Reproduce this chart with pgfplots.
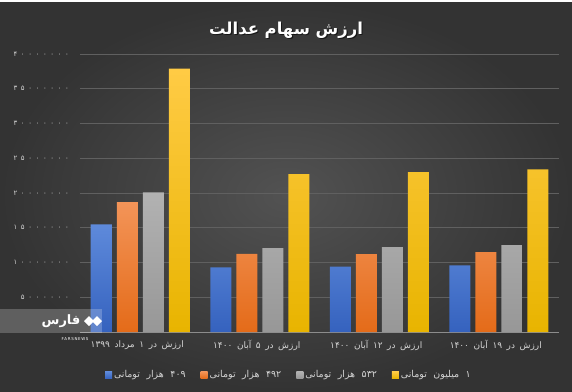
\documentclass[border=0pt]{standalone}
\usepackage{pgfplots}
\pgfplotsset{compat=1.18}
\usepackage{fontspec}
\setmainfont{DejaVu Sans}
\newfontfamily\fa[Script=Arabic]{DejaVu Sans}
\newfontfamily\fanum[Script=Arabic,LetterSpace=52]{DejaVu Sans}
\TeXXeTstate=1
\definecolor{bgmid}{HTML}{525252}
\definecolor{bgedge}{HTML}{333333}
\definecolor{gridc}{HTML}{606060}
\definecolor{basec}{HTML}{8C8C8C}
\definecolor{txt}{HTML}{D4D4D4}
\definecolor{bluetop}{HTML}{5E8ADB}
\definecolor{bluebot}{HTML}{3562BE}
\definecolor{orangetop}{HTML}{F39458}
\definecolor{orangebot}{HTML}{E46B19}
\definecolor{graytop}{HTML}{B2B2B2}
\definecolor{graybot}{HTML}{979797}
\definecolor{yeltop}{HTML}{FFCB45}
\definecolor{yelmid}{HTML}{FFC200}
\definecolor{yelbot}{HTML}{E8B400}

\pgfplotstableread{
x v409 v492 v532 v1m
0 15500000 18700000 20100000 37900000
1 9300000 11250000 12070000 22700000
2 9400000 11200000 12200000 23000000
3 9600000 11500000 12500000 23400000
}\datatable

\begin{document}
\begin{tikzpicture}[x=1bp,y=1bp]
\shade[inner color=bgmid, outer color=bgedge] (-80.5,-59) rectangle (491.5,332);
\fill[white] (-80.5,330) rectangle (491.5,332);
\node[font=\fa\bfseries\fontsize{16.5}{18}\selectfont, text=black, opacity=0.55] at (206.7,300.8) {\beginR ارزش سهام عدالت\endR};
\node[font=\fa\bfseries\fontsize{16.5}{18}\selectfont, text=white] at (205.5,302) {\beginR ارزش سهام عدالت\endR};
\begin{axis}[
  at={(0,0)}, anchor=south west,
  width=478bp, height=278bp, scale only axis,
  xmin=-0.5, xmax=3.5, ymin=0, ymax=40000000,
  ybar=5bp, bar width=21bp,
  axis line style={draw=none},
  major tick length=0pt, tick style={draw=none},
  xtick pos=bottom, ytick pos=left,
  ymajorgrids, grid style={gridc, line width=0.8bp},
  ytick={5000000,10000000,15000000,20000000,25000000,30000000,35000000,40000000},
  yticklabels={۵۰۰۰۰۰۰,۱۰۰۰۰۰۰۰,۱۵۰۰۰۰۰۰,۲۰۰۰۰۰۰۰,۲۵۰۰۰۰۰۰,۳۰۰۰۰۰۰۰,۳۵۰۰۰۰۰۰,۴۰۰۰۰۰۰۰},
  scaled y ticks=false,
  yticklabel style={font=\fanum\fontsize{7}{8}\selectfont, text=txt, anchor=east, xshift=-8bp},
  extra y ticks={0}, extra y tick labels={},
  extra y tick style={grid style={basec, line width=1bp}},
  xtick={0,1,2,3},
  xticklabels={{\spaceskip=4.6bp\relax\beginR ارزش در ۱ مرداد ۱۳۹۹\endR},{\spaceskip=4.6bp\relax\beginR ارزش در ۵ آبان ۱۴۰۰\endR},{\spaceskip=4.6bp\relax\beginR ارزش در ۱۲ آبان ۱۴۰۰\endR},{\spaceskip=4.6bp\relax\beginR ارزش در ۱۹ آبان ۱۴۰۰\endR}},
  xticklabel style={font=\fa\fontsize{9}{10}\selectfont, text=txt, yshift=-5bp, xshift=-3bp},
  legend image code/.code={\path[#1,draw=none] (0bp,-3.5bp) rectangle (7bp,3.5bp);},
  legend style={draw=none, fill=none, text=txt, font=\fa\fontsize{9.5}{10}\selectfont,
    at={(0.436,-0.155)}, anchor=center,
    /tikz/every even column/.append style={column sep=13bp}},
  legend columns=4,
  clip=false,
]
\addplot[draw=none, top color=bluetop, bottom color=bluebot] table[x=x,y=v409] {\datatable};
\addlegendentry{\spaceskip=6.5bp\relax\beginR ۴۰۹ هزار تومانی\endR}
\addplot[draw=none, top color=orangetop, bottom color=orangebot] table[x=x,y=v492] {\datatable};
\addlegendentry{\spaceskip=6.5bp\relax\beginR ۴۹۲ هزار تومانی\endR}
\addplot[draw=none, top color=graytop, bottom color=graybot] table[x=x,y=v532] {\datatable};
\addlegendentry{\spaceskip=6.5bp\relax\beginR ۵۳۲ هزار تومانی\endR}
\addplot[draw=none, top color=yeltop, middle color=yelmid, bottom color=yelbot] table[x=x,y=v1m] {\datatable};
\addlegendentry{\spaceskip=6.5bp\relax\beginR ۱ میلیون تومانی\endR}
\end{axis}
% watermark
\fill[white, opacity=0.22] (-80.5,-1) rectangle (21.5,23);
\node[font=\fa\bfseries\fontsize{13}{14}\selectfont, text=white] at (-19.5,11) {\beginR فارس\endR};
\fill[white] (3.5,11) -- (8.5,16) -- (13.5,11) -- (8.5,6) -- cycle;
\fill[white] (11.5,11) -- (16.5,16) -- (21.5,11) -- (16.5,6) -- cycle;
\node[font=\fontsize{4}{5}\selectfont, text=white] at (-5.5,-7) {F\,A\,R\,S\,N\,E\,W\,S};
\pgfresetboundingbox
\useasboundingbox (-80.5,-59) rectangle (491.5,332);
\end{tikzpicture}
\end{document}
